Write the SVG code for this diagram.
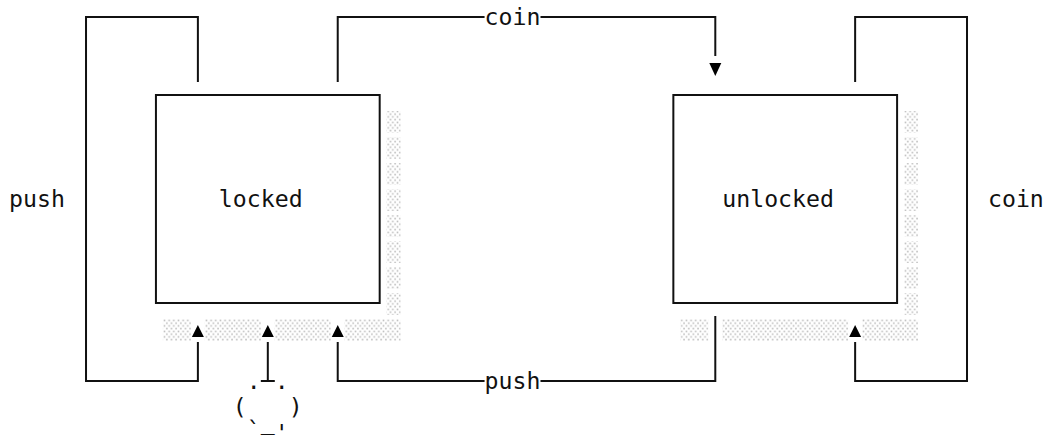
<svg xmlns="http://www.w3.org/2000/svg" width="1045" height="435" viewBox="0 0 1045 435">
<style>
  .t { font-family: "DejaVu Sans Mono", "Liberation Mono", monospace; font-size: 23.2px; fill: #111; }
  .ln { fill: none; stroke: #111; stroke-width: 2; }
  .box { fill: #fff; stroke: #111; stroke-width: 2; }
  .sh { fill: url(#shade); }
  .arr { fill: #000; }
</style>
<defs>
  <pattern id="shade" x="0" y="0" width="4.66" height="5.5" patternUnits="userSpaceOnUse">
    <rect x="0.6" y="0.6" width="1.6" height="1.6" fill="#bcbcbc"/>
    <rect x="2.93" y="3.35" width="1.6" height="1.6" fill="#bcbcbc"/>
  </pattern>
</defs>
<rect width="1045" height="435" fill="#fff"/>

<g id="connectors">
  <!-- left loop: locked -> locked (push) -->
  <path class="ln" d="M197.89,82 V17 H86.02 V381 H197.89 V342"/>
  <polygon class="arr" points="191.89,337 203.89,337 197.89,325"/>
  <text class="t" x="9.1" y="207">push</text>
  <!-- top: locked -> unlocked (coin) -->
  <path class="ln" d="M337.73,82 V17 H484.56"/>
  <path class="ln" d="M540.49,17 H715.3 V56"/>
  <polygon class="arr" points="709.3,63 721.3,63 715.3,76"/>
  <text class="t" x="484.56" y="25">coin</text>
  <!-- bottom: unlocked -> locked (push) -->
  <path class="ln" d="M715.3,316 V381 H540.49"/>
  <path class="ln" d="M484.56,381 H337.73 V342"/>
  <polygon class="arr" points="331.73,337 343.73,337 337.73,325"/>
  <text class="t" x="484.56" y="389">push</text>
  <!-- right loop: unlocked -> unlocked (coin) -->
  <path class="ln" d="M855.14,82 V17 H967.01 V381 H855.14 V342"/>
  <polygon class="arr" points="849.14,337 861.14,337 855.14,325"/>
  <text class="t" x="987.98" y="207">coin</text>
  <!-- start -> locked -->
  <path class="ln" d="M267.81,381 V342 M260.82,381 H274.8"/>
  <polygon class="arr" points="261.81,337 273.81,337 267.81,325"/>
</g>

<g id="start">
  <text class="t" x="246.84" y="389">.</text>
  <text class="t" x="274.8" y="389">.</text>
  <text class="t" x="232.85" y="415">(</text>
  <text class="t" x="288.79" y="415">)</text>
  <text class="t" x="246.84" y="438">`</text>
  <text class="t" x="260.82" y="429">_</text>
  <text class="t" x="274.8" y="441">'</text>
</g>

<g id="locked">
  <rect class="sh" x="386.67" y="111" width="13.99" height="22"/>
  <rect class="sh" x="386.67" y="137" width="13.99" height="22"/>
  <rect class="sh" x="386.67" y="163" width="13.99" height="22"/>
  <rect class="sh" x="386.67" y="189" width="13.99" height="22"/>
  <rect class="sh" x="386.67" y="215" width="13.99" height="22"/>
  <rect class="sh" x="386.67" y="241" width="13.99" height="22"/>
  <rect class="sh" x="386.67" y="267" width="13.99" height="22"/>
  <rect class="sh" x="386.67" y="293" width="13.99" height="22"/>
  <rect class="sh" x="162.93" y="319" width="27.97" height="22"/>
  <rect class="sh" x="204.88" y="319" width="55.94" height="22"/>
  <rect class="sh" x="274.8" y="319" width="55.94" height="22"/>
  <rect class="sh" x="344.72" y="319" width="55.94" height="22"/>
  <rect class="box" x="155.94" y="95" width="223.74" height="208"/>
  <text class="t" x="218.86" y="207">locked</text>
</g>

<g id="unlocked">
  <rect class="sh" x="904.08" y="111" width="13.99" height="22"/>
  <rect class="sh" x="904.08" y="137" width="13.99" height="22"/>
  <rect class="sh" x="904.08" y="163" width="13.99" height="22"/>
  <rect class="sh" x="904.08" y="189" width="13.99" height="22"/>
  <rect class="sh" x="904.08" y="215" width="13.99" height="22"/>
  <rect class="sh" x="904.08" y="241" width="13.99" height="22"/>
  <rect class="sh" x="904.08" y="267" width="13.99" height="22"/>
  <rect class="sh" x="904.08" y="293" width="13.99" height="22"/>
  <rect class="sh" x="680.33" y="319" width="27.97" height="22"/>
  <rect class="sh" x="722.28" y="319" width="125.86" height="22"/>
  <rect class="sh" x="862.13" y="319" width="55.94" height="22"/>
  <rect class="box" x="673.35" y="95" width="223.74" height="208"/>
  <text class="t" x="722.28" y="207">unlocked</text>
</g>
</svg>
